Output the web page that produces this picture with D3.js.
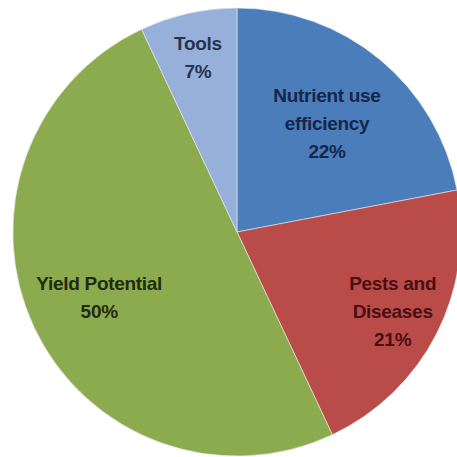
<!DOCTYPE html>
<html>
<head>
<meta charset="utf-8">
<script src="https://cdn.jsdelivr.net/npm/d3@7"></script>
<style>
  html, body { margin: 0; padding: 0; background: #fff; }
</style>
</head>
<body>
<div id="chart-area"></div>
<script>
// data
const categories = ["Nutrient use efficiency", "Pests and Diseases", "Yield Potential", "Tools"];
const values = [22, 21, 50, 7];
// how each label is broken into lines
const labelLines = [["Nutrient use", "efficiency"], ["Pests and", "Diseases"], ["Yield Potential"], ["Tools"]];

const width = 457, height = 457,
  cx = 237, cy = 232, radius = 224,
  colors = ["#4a7dba", "#b94b49", "#8caa4e", "#97b0d9"],
  textColors = ["#16264a", "#4a1011", "#1f2b0a", "#27334f"],
  labelPos = [0.63, 0.78, 0.68, 0.8];

const svg = d3
  .select("#chart-area")
  .append("svg")
  .attr("width", width)
  .attr("height", height);

const g = svg.append("g").attr("transform", "translate(" + cx + "," + cy + ")");

const pie = d3.pie().sort(null).value(d => d);
const arcs = pie(values);

const arc = d3.arc().innerRadius(0).outerRadius(radius);

//slices
g.selectAll("path")
  .data(arcs)
  .enter()
  .append("path")
  .attr("d", arc)
  .style("fill", (d, i) => colors[i])
  .style("stroke", "#e8ecef")
  .style("stroke-width", 0.6);

//labels
const lineH = 28;
arcs.forEach((d, i) => {
  const r = radius * labelPos[i];
  const c = d3.arc().innerRadius(r).outerRadius(r).centroid(d);
  const lines = labelLines[i].concat([values[i] + "%"]);
  const t = g.append("text")
    .attr("text-anchor", "middle")
    .style("font-family", "'Liberation Sans', Arial, sans-serif")
    .style("font-weight", "bold")
    .style("font-size", "19px")
    .style("letter-spacing", "-0.3px")
    .style("fill", textColors[i]);
  lines.forEach((s, j) => {
    t.append("tspan")
      .attr("x", c[0])
      .attr("y", c[1] + (j - (lines.length - 1) / 2) * lineH)
      .attr("dy", "0.35em")
      .text(s);
  });
});
</script>
</body>
</html>
